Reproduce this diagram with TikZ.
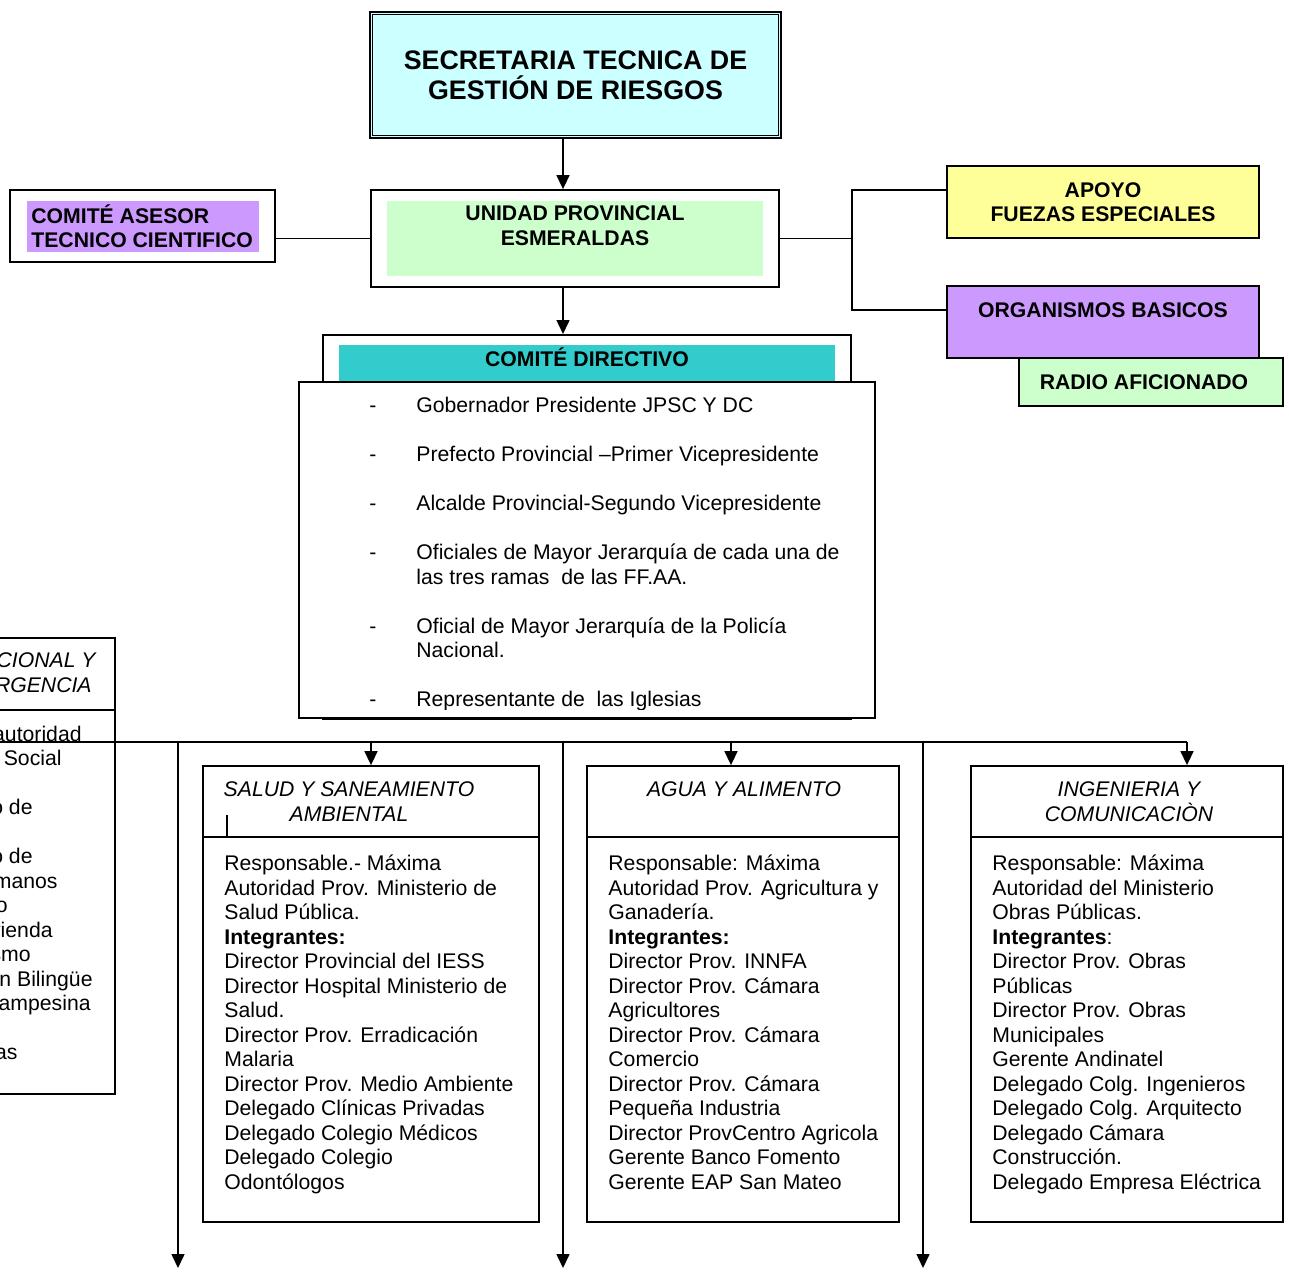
\documentclass[tikz,border=0pt]{standalone}
\usepackage{fontspec}
\setmainfont{Liberation Sans}
\usetikzlibrary{arrows.meta}

\definecolor{celeste}{HTML}{CCFFFF}
\definecolor{verdeclaro}{HTML}{CCFFCC}
\definecolor{lila}{HTML}{CC99FF}
\definecolor{amarillo}{HTML}{FFFF99}
\definecolor{turquesa}{HTML}{33CCCC}

\newcommand{\cuerpo}{\fontsize{10.6}{12.25}\selectfont}

\begin{document}
\begin{tikzpicture}[x=0.5pt, y=-0.5pt,
	every node/.style={text centered, font=\cuerpo},
	caja/.style={draw, line width=0.9pt, fill=white, inner sep=0pt},
	relleno/.style={inner sep=0pt},
	titulo/.style={font=\cuerpo\bfseries, align=center, inner sep=0pt},
	lista/.style={align=left, anchor=north west, inner sep=0pt},
	linea/.style={line width=0.75pt},
	flecha/.style={line width=0.75pt, -{Triangle[length=7pt, width=6.5pt]}}]

	\useasboundingbox (0,0) rectangle (1289,1280);
	\clip (0,0) rectangle (1289,1280);

	% cabecera
	\node[caja, fill=celeste, line width=1.3pt, minimum width=205.5pt, minimum height=63pt] (secretaria) at (575.5,75) {};
	\draw[line width=0.4pt] ([shift={(2pt,-2pt)}]secretaria.north west) rectangle ([shift={(-2pt,2pt)}]secretaria.south east);
	\node[titulo, font=\fontsize{13.4}{15}\selectfont\bfseries] (tsecretaria) at (secretaria) {SECRETARIA TECNICA DE\\GESTIÓN DE RIESGOS};

	\node[caja, minimum width=204pt, minimum height=48.5pt] (unidad) at (575,238.5) {};
	\node[relleno, fill=verdeclaro, minimum width=188pt, minimum height=37.5pt] (unidadfondo) at (575,238.5) {};
	\node[titulo] (tunidad) at (575,225.5) {UNIDAD PROVINCIAL\\ESMERALDAS};

	\node[caja, minimum width=132.5pt, minimum height=36pt] (asesor) at (142.5,226) {};
	\node[relleno, fill=lila, minimum width=116pt, minimum height=25.5pt] (asesorfondo) at (143,226.5) {};
	\node[titulo, align=left, anchor=west] (tasesor) at (31,226) {COMITÉ ASESOR\\TECNICO CIENTIFICO};

	\node[caja, titulo, fill=amarillo, minimum width=156pt, minimum height=36pt] (apoyo) at (1103,202) {APOYO\\FUEZAS ESPECIALES};
	\node[caja, fill=lila, minimum width=156pt, minimum height=36pt] (organismos) at (1103,322) {};
	\node[titulo] (torganismos) at (1103,310) {ORGANISMOS BASICOS};
	\node[caja, titulo, fill=verdeclaro, minimum width=132pt, minimum height=24pt] (radio) at (1151,382) {RADIO AFICIONADO\hspace*{7pt}};

	% comite directivo
	\node[caja, minimum width=264pt, minimum height=192pt, anchor=north] (comite) at (587,334) {};
	\node[relleno, fill=turquesa, minimum width=248pt, minimum height=18pt] (comitefondo) at (587,363) {};
	\node[titulo] (tcomite) at (587,357) {COMITÉ DIRECTIVO};
	\node[caja, minimum width=288pt, minimum height=168pt] (miembros) at (587,550) {};
	\begin{scope}
		\clip (miembros.north west) rectangle ([yshift=4.5pt]miembros.south east);
		\node[lista] (tmiembros) at (369,395) {\begin{tabular}{@{}p{23.5pt}@{}l@{}}
			- & Gobernador Presidente JPSC Y DC\\
			\\
			- & Prefecto Provincial –Primer Vicepresidente\\
			\\
			- & Alcalde Provincial-Segundo Vicepresidente\\
			\\
			- & Oficiales de Mayor Jerarquía de cada una de\\
			  & las tres ramas\ \ de las FF.AA.\\
			\\
			- & Oficial de Mayor Jerarquía de la Policía\\
			  & Nacional.\\
			\\
			- & Representante de\ \ las Iglesias
		\end{tabular}};
	\end{scope}

	% comisiones
	\node[caja, minimum width=156pt, minimum height=228pt, anchor=north east] (operacion) at (116,637) {};
	\draw[linea] ([yshift=-36.5pt]operacion.north west) -- ([yshift=-36.5pt]operacion.north east);
	\node[font=\cuerpo\itshape, anchor=base east, inner sep=0pt] (toperacion1) at (96,667) {CIONAL Y};
	\node[font=\cuerpo\itshape, anchor=base east, inner sep=0pt] (toperacion2) at (92,692) {RGENCIA};
	\foreach \x/\y/\t [count=\i] in {82/741/autoridad, 62/765.5/Social, 33/814.5/o de, 33/863.5/o de,
		58/888/manos, 8/912.5/o, 53/937/vienda, 31/961.5/smo, 93/986/n Bilingüe,
		91/1010.5/ampesina, 18/1059.5/as}
		\node[anchor=base east, inner sep=0pt] (frag\i) at (\x,\y) {\t};

	\node[caja, minimum width=168pt, minimum height=228pt] (salud) at (371,994) {};
	\node[caja, minimum width=156pt, minimum height=228pt] (agua) at (743,994) {};
	\node[caja, minimum width=156pt, minimum height=228pt] (ingenieria) at (1127,994) {};
	\draw[linea] ([yshift=-36pt]salud.north west) -- ([yshift=-36pt]salud.north east);
	\draw[linea] ([yshift=-36pt]agua.north west) -- ([yshift=-36pt]agua.north east);
	\draw[linea] ([yshift=-36pt]ingenieria.north west) -- ([yshift=-36pt]ingenieria.north east);
	\draw[linea] (227,815) -- (227,838);

	\node[font=\cuerpo\itshape, align=center, inner sep=0pt] (tsalud) at (349,801.5) {SALUD Y SANEAMIENTO\\AMBIENTAL};
	\node[font=\cuerpo\itshape, inner sep=0pt] (tagua) at (744,789) {AGUA Y ALIMENTO};
	\node[font=\cuerpo\itshape, align=center, inner sep=0pt] (tingenieria) at (1129,801.5) {INGENIERIA Y\\COMUNICACIÒN};

	\node[lista] (lsalud) at (224,853) {\begin{tabular}{@{}l@{}}
		Responsable.- Máxima\\
		Autoridad Prov. Ministerio de\\
		Salud Pública.\\
		\textbf{Integrantes:}\\
		Director Provincial del IESS\\
		Director Hospital Ministerio de\\
		Salud.\\
		Director Prov. Erradicación\\
		Malaria\\
		Director Prov. Medio Ambiente\\
		Delegado Clínicas Privadas\\
		Delegado Colegio Médicos\\
		Delegado Colegio\\
		Odontólogos
	\end{tabular}};
	\node[lista] (lagua) at (608,853) {\begin{tabular}{@{}l@{}}
		Responsable: Máxima\\
		Autoridad Prov. Agricultura y\\
		Ganadería.\\
		\textbf{Integrantes:}\\
		Director Prov. INNFA\\
		Director Prov. Cámara\\
		Agricultores\\
		Director Prov. Cámara\\
		Comercio\\
		Director Prov. Cámara\\
		Pequeña Industria\\
		Director ProvCentro Agricola\\
		Gerente Banco Fomento\\
		Gerente EAP San Mateo
	\end{tabular}};
	\node[lista] (lingenieria) at (992,853) {\begin{tabular}{@{}l@{}}
		Responsable: Máxima\\
		Autoridad del Ministerio\\
		Obras Públicas.\\
		\textbf{Integrantes}:\\
		Director Prov. Obras\\
		Públicas\\
		Director Prov. Obras\\
		Municipales\\
		Gerente Andinatel\\
		Delegado Colg. Ingenieros\\
		Delegado Colg. Arquitecto\\
		Delegado Cámara\\
		Construcción.\\
		Delegado Empresa Eléctrica
	\end{tabular}};

	% conexiones
	\coordinate (eje) at (563,0);
	\coordinate (bus) at (0,742);
	\coordinate (busfin) at (1187,742);
	\coordinate (baja1) at (178,1268);
	\coordinate (baja2) at (563,1268);
	\coordinate (baja3) at (923,1268);

	\draw[flecha] (secretaria.south -| eje) -- (unidad.north -| eje);
	\draw[flecha] (unidad.south -| eje) -- (comite.north -| eje);
	\draw[linea] (asesor.east |- unidad.west) -- (unidad.west);
	\draw[linea] (unidad.east) -- ++(36pt,0) coordinate (derecha);
	\draw[linea] ([yshift=6pt]apoyo.west) -| (derecha) |- ([yshift=6pt]organismos.west);

	\draw[linea] (bus) -- (busfin);
	\draw[flecha] (salud.north |- bus) -- (salud.north);
	\draw[flecha] ([xshift=-6pt]agua.north |- bus) -- ([xshift=-6pt]agua.north);
	\draw[flecha] (busfin) -- (busfin |- ingenieria.north);
	\draw[flecha] (bus -| baja1) -- (baja1);
	\draw[flecha] (bus -| baja2) -- (baja2);
	\draw[flecha] (bus -| baja3) -- (baja3);
\end{tikzpicture}
\end{document}
